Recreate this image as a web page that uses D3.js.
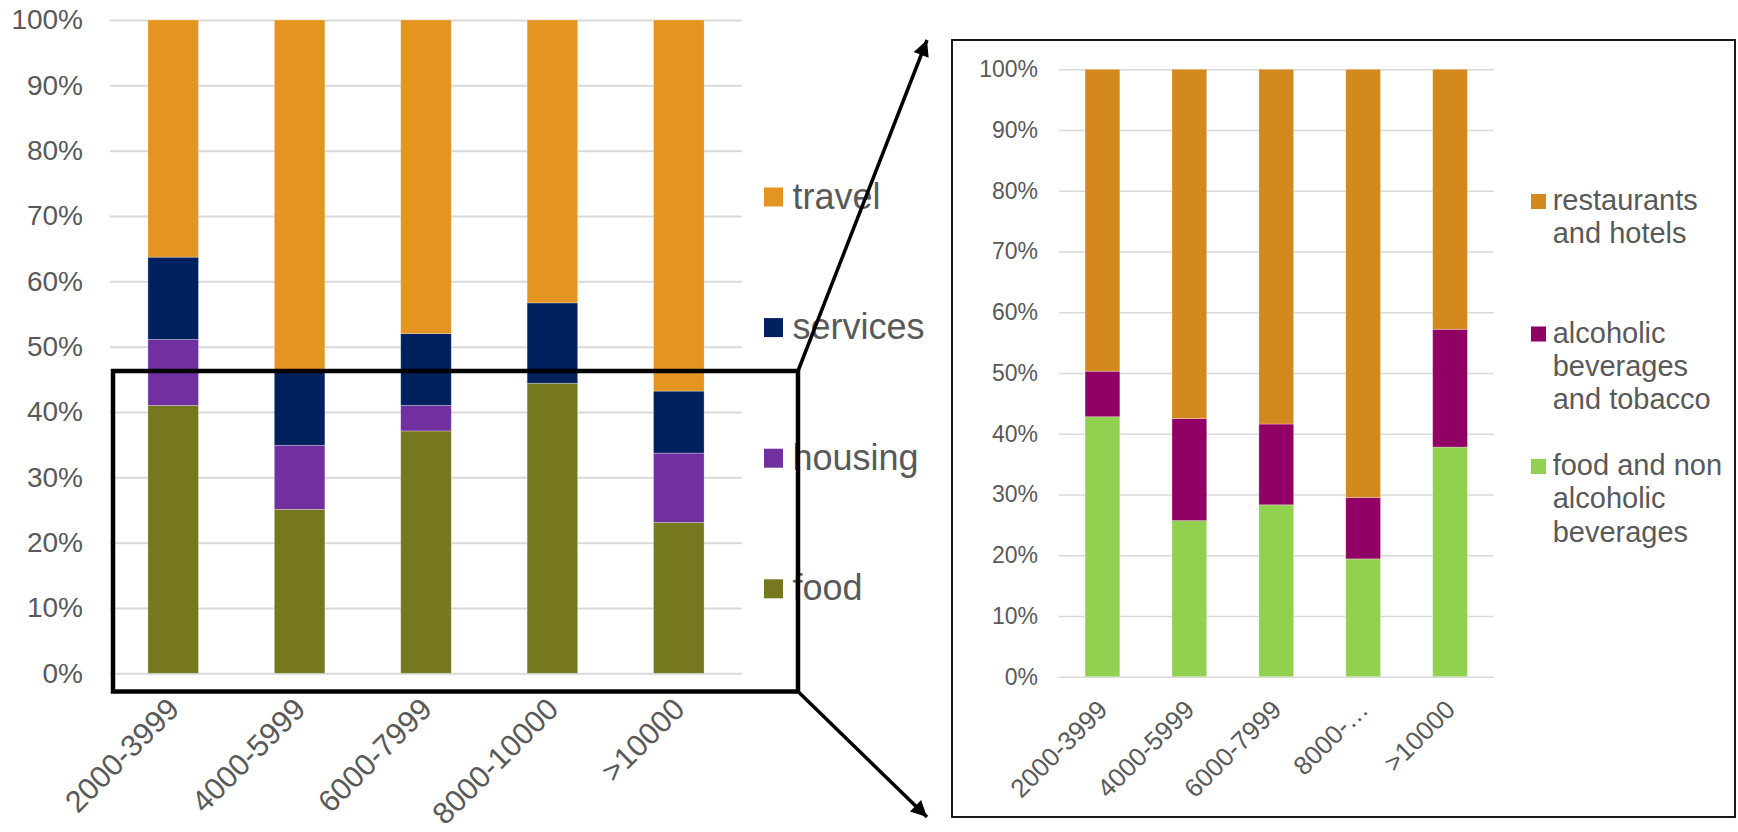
<!DOCTYPE html>
<html>
<head>
<meta charset="utf-8">
<script src="https://cdn.jsdelivr.net/npm/d3@7"></script>
<style>
  html, body { margin: 0; padding: 0; background: #fff; }
  svg { display: block; font-family: "Liberation Sans", Arial, sans-serif; }
</style>
</head>
<body>
<svg id="chart" width="1738" height="832"></svg>
<script>
// Monthly income brackets
const categories = ["2000-3999", "4000-5999", "6000-7999", "8000-10000", ">10000"];
// Share of spending (%) by category, left chart
const food     = [41.0, 25.1, 37.1, 44.4, 23.1];
const housing  = [10.1,  9.8,  3.9,  0.0, 10.6];
const services = [12.6, 11.6, 11.0, 12.3,  9.5];
const travel   = [36.3, 53.5, 48.0, 43.3, 56.8];

// Breakdown of the food share (%), right chart
const detailCategories  = ["2000-3999", "4000-5999", "6000-7999", "8000-\u2026", ">10000"];
const foodNonAlcoholic  = [42.8, 25.7, 28.3, 19.4, 37.8];
const alcoholTobacco    = [ 7.5, 16.8, 13.3, 10.1, 19.4];
const restaurantsHotels = [49.7, 57.5, 58.4, 70.5, 42.8];

const yTicks = [0, 10, 20, 30, 40, 50, 60, 70, 80, 90, 100];

const TEXT = "#595959";
const GRID = "#d9d9d9";

const svg = d3.select("#chart");

function stackedChart(opts) {
  const g = svg.append("g");
  const rows = opts.cats.map((c, i) => {
    const r = { cat: c };
    opts.series.forEach(s => r[s.key] = s.values[i]);
    return r;
  });
  const stack = d3.stack().keys(opts.series.map(s => s.key));
  const layers = stack(rows);

  const x = d3.scaleBand().domain(opts.cats)
    .range([opts.x0, opts.x1]).paddingInner(0.6).paddingOuter(0.3);
  const y = d3.scaleLinear().domain([0, 100]).range([opts.y0, opts.y1]);

  // gridlines + y tick labels
  const yAxis = d3.axisLeft(y).tickValues(yTicks)
    .tickFormat(d => d + "%")
    .tickSize(-(opts.x1 - opts.x0))
    .tickPadding(opts.tickPad);
  const ya = g.append("g").attr("transform", `translate(${opts.x0},0)`).call(yAxis);
  ya.select(".domain").remove();
  ya.selectAll(".tick line").attr("stroke", GRID).attr("stroke-width", opts.gridW);
  ya.selectAll(".tick text").attr("fill", TEXT)
    .style("font-size", opts.tickFont + "px")
    .style("font-family", "'Liberation Sans', Arial, sans-serif");

  // stacked bars
  const colorOf = {};
  opts.series.forEach(s => colorOf[s.key] = s.color);
  g.append("g").selectAll("g").data(layers).join("g")
    .attr("fill", d => colorOf[d.key])
    .selectAll("rect").data(d => d).join("rect")
    .attr("x", d => x(d.data.cat))
    .attr("width", x.bandwidth())
    .attr("y", d => y(d[1]))
    .attr("height", d => Math.max(0, y(d[0]) - y(d[1])))
    .attr("stroke", "rgba(255,255,255,0.35)")
    .attr("stroke-width", 0.8);

  // rotated category labels
  g.append("g").selectAll("text").data(opts.cats).join("text")
    .attr("transform", d => `translate(${x(d) + x.bandwidth() / 2 + opts.lblDx},${opts.y0 + opts.lblDy}) rotate(-45)`)
    .attr("text-anchor", "end")
    .attr("dy", "0.36em")
    .attr("fill", TEXT)
    .style("font-size", opts.lblFont + "px")
    .text(d => d);

  // legend (top item = top of stack)
  const leg = g.append("g");
  const items = opts.series.slice().reverse();
  items.forEach((s, i) => {
    const by = opts.legY + i * opts.legStep;
    leg.append("rect")
      .attr("x", opts.legX).attr("y", by - opts.legSwOff)
      .attr("width", opts.legSw).attr("height", opts.legSw)
      .attr("fill", s.color);
    const t = leg.append("text")
      .attr("x", opts.legX + opts.legTextDx).attr("y", by)
      .attr("fill", TEXT)
      .style("font-size", opts.legFont + "px");
    s.label.forEach((line, j) => {
      t.append("tspan").attr("x", opts.legX + opts.legTextDx)
        .attr("y", by + j * opts.legLine).text(line);
    });
  });
  return { x, y };
}

stackedChart({
  cats: categories,
  series: [
    { key: "food",     values: food,     color: "#75781F", label: ["food"] },
    { key: "housing",  values: housing,  color: "#7030A0", label: ["housing"] },
    { key: "services", values: services, color: "#00205E", label: ["services"] },
    { key: "travel",   values: travel,   color: "#E39421", label: ["travel"] }
  ],
  x0: 110, x1: 742, y0: 673.3, y1: 20,
  tickPad: 27, tickFont: 28, gridW: 2,
  lblFont: 30.5, lblDx: 0, lblDy: 30,
  legX: 764, legY: 208.5, legStep: 130.6, legSw: 19, legSwOff: 21, legTextDx: 28.5,
  legFont: 36, legLine: 40
});

stackedChart({
  cats: detailCategories,
  series: [
    { key: "food",    values: foodNonAlcoholic,  color: "#92D050", label: ["food and non", "alcoholic", "beverages"] },
    { key: "alcohol", values: alcoholTobacco,    color: "#910064", label: ["alcoholic", "beverages", "and tobacco"] },
    { key: "rest",    values: restaurantsHotels, color: "#D4891E", label: ["restaurants", "and hotels"] }
  ],
  x0: 1059, x1: 1493.5, y0: 676.7, y1: 69.3,
  tickPad: 21, tickFont: 23, gridW: 1.5,
  lblFont: 26, lblDx: 0, lblDy: 28,
  legX: 1531, legY: 210, legStep: 132.5, legSw: 15, legSwOff: 16, legTextDx: 21.7,
  legFont: 29, legLine: 33.3
});

// zoom frame around the lower part of the left chart, and the frame of the detail chart
const defs = svg.append("defs");
defs.append("marker")
  .attr("id", "arrowhead")
  .attr("viewBox", "0 0 10 10")
  .attr("refX", 10).attr("refY", 5)
  .attr("markerUnits", "userSpaceOnUse")
  .attr("markerWidth", 20).attr("markerHeight", 16)
  .attr("orient", "auto")
  .append("path").attr("d", "M0,0 L10,5 L0,10 Z").attr("fill", "#000");

svg.append("rect")
  .attr("x", 113).attr("y", 371).attr("width", 685).attr("height", 320.5)
  .attr("fill", "none").attr("stroke", "#000").attr("stroke-width", 4.5);

svg.append("line")
  .attr("x1", 798).attr("y1", 371).attr("x2", 927).attr("y2", 40)
  .attr("stroke", "#000").attr("stroke-width", 3.5)
  .attr("marker-end", "url(#arrowhead)");
svg.append("line")
  .attr("x1", 798).attr("y1", 691.5).attr("x2", 927).attr("y2", 817)
  .attr("stroke", "#000").attr("stroke-width", 3.5)
  .attr("marker-end", "url(#arrowhead)");

svg.append("rect")
  .attr("x", 952).attr("y", 40).attr("width", 783).attr("height", 777)
  .attr("fill", "none").attr("stroke", "#000").attr("stroke-width", 1.8);
</script>
</body>
</html>
